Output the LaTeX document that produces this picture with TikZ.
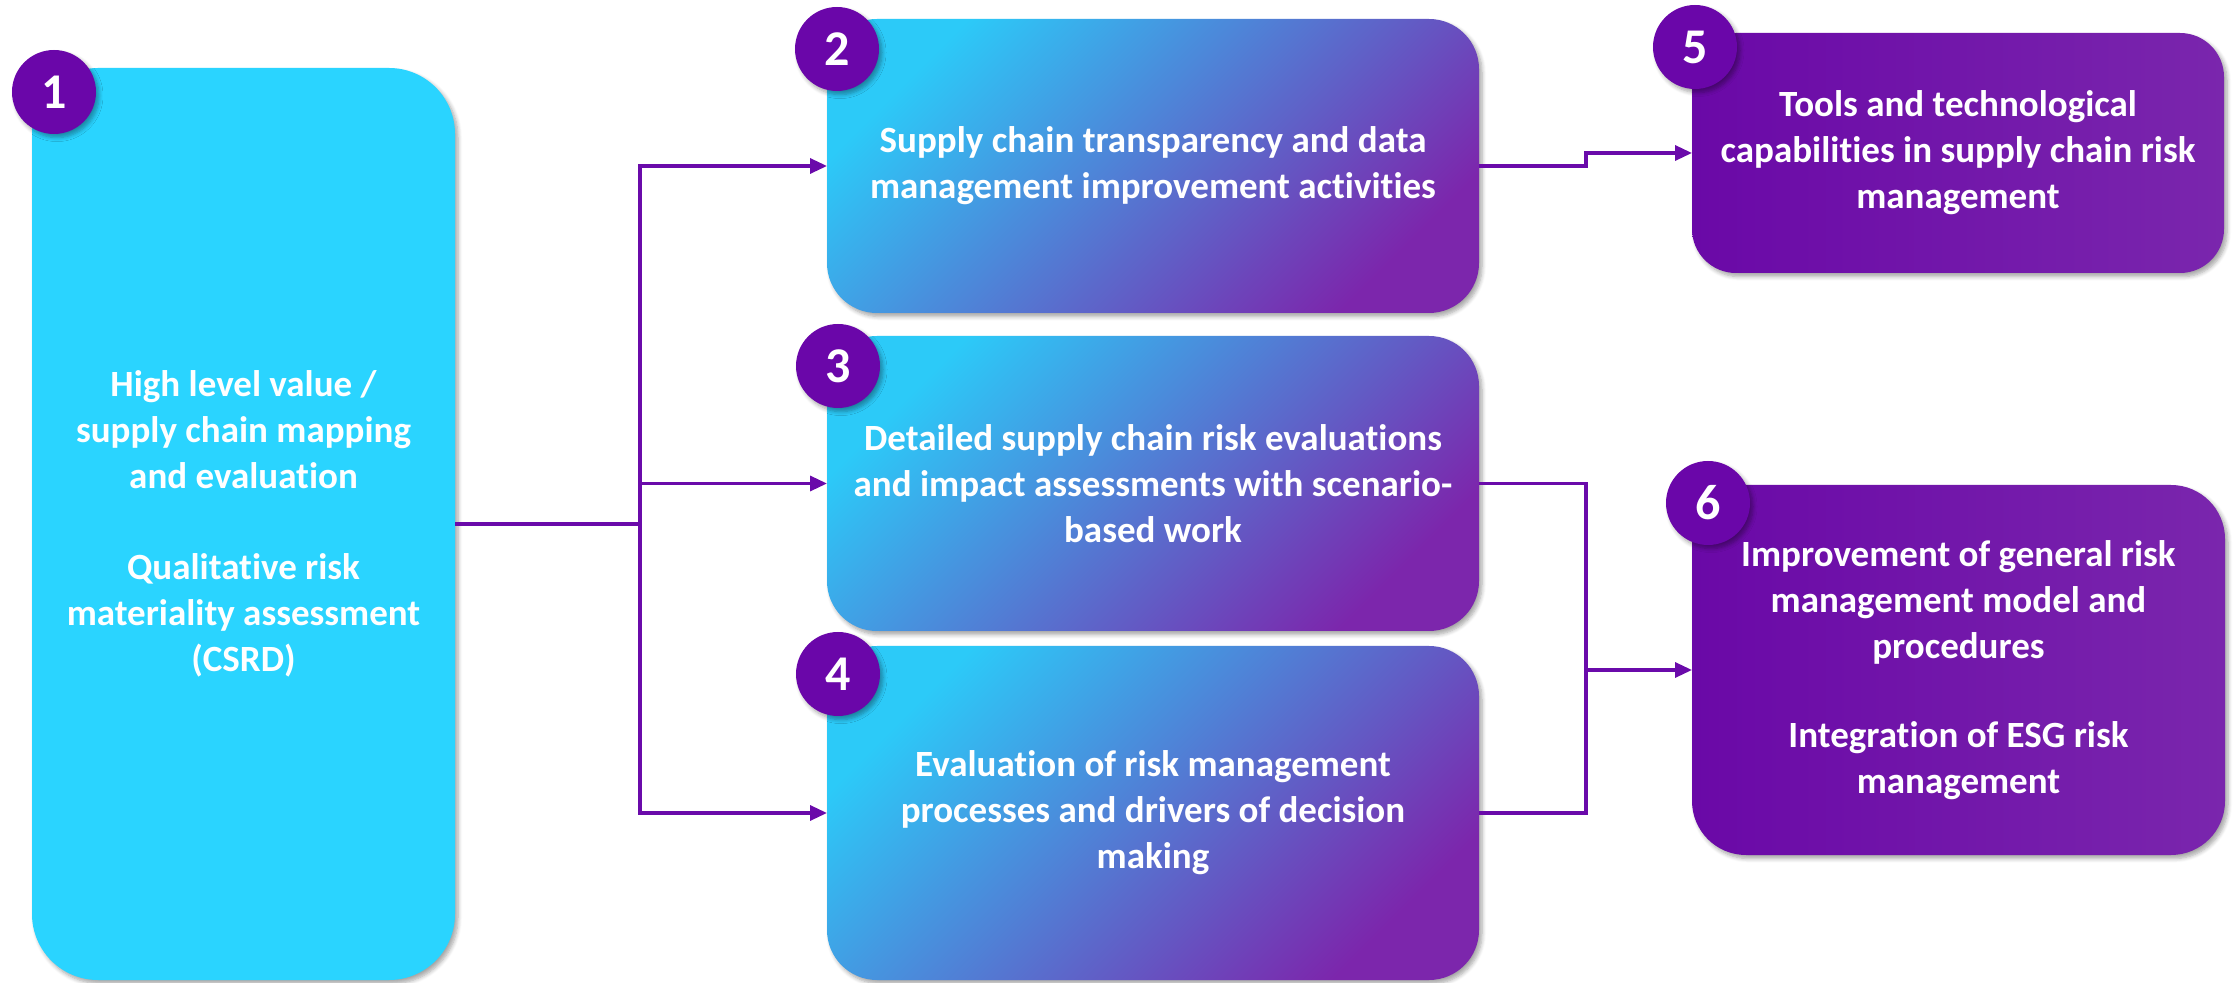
\documentclass[tikz,border=0pt]{standalone}
\usepackage{fontspec}
\setmainfont{Carlito}[Ligatures=NoCommon]
\usetikzlibrary{arrows.meta,shadows.blur}
\definecolor{cyanbox}{RGB}{42,212,255}
\definecolor{gradA}{RGB}{44,202,248}
\definecolor{gradB}{RGB}{124,38,172}
\definecolor{purA}{RGB}{106,8,167}
\definecolor{purB}{RGB}{122,38,173}
\definecolor{badge}{RGB}{106,6,169}
\definecolor{linec}{RGB}{106,10,170}
\begin{document}
\begin{tikzpicture}[x=0.5pt,y=-0.5pt,
  every node/.style={inner sep=0pt, outer sep=0pt},
  shad/.style={blur shadow={shadow blur steps=6, shadow xshift=1.5pt, shadow yshift=-1.8pt, shadow opacity=35, shadow blur radius=2pt}},
  box/.style={shad, text=white, font=\fontsize{18.5}{23}\selectfont\bfseries, align=center},
  cyanstyle/.style={box, fill=cyanbox, rounded corners=33pt},
  gradstyle/.style={box, top color=gradA, bottom color=gradB, shading angle=45, rounded corners=25pt},
  purstyle/.style={box, left color=purA, right color=purB, rounded corners=25pt},
  badgestyle/.style={shad, circle, fill=badge, minimum size=42pt, text=white, font=\fontsize{25}{25}\selectfont\bfseries},
  conn/.style={draw=linec, line width=1.65pt},
  arr/.style={conn, -{Triangle[length=8.5pt,width=7.5pt]}}
]
\useasboundingbox (0,0) rectangle (2234,983);

% boxes
\node[cyanstyle, minimum width=211.5pt, minimum height=456pt] (b1) at (243.5,524)
  {High level value /\\ supply chain mapping\\ and evaluation\\[22.5pt] Qualitative risk\\ materiality assessment\\ (CSRD)};
\node[gradstyle, minimum width=326pt, minimum height=147pt] (b2) at (1153,166)
  {Supply chain transparency and data\\ management improvement activities};
\node[gradstyle, minimum width=326pt, minimum height=147.5pt] (b3) at (1153,483.5)
  {Detailed supply chain risk evaluations\\ and impact assessments with scenario-\\ based work};
\node[gradstyle, minimum width=326pt, minimum height=167pt] (b4) at (1153,813)
  {Evaluation of risk management\\ processes and drivers of decision\\ making};
\node[purstyle, minimum width=266pt, minimum height=120pt, rounded corners=22pt] (b5) at (1958,153)
  {Tools and technological\\ capabilities in supply chain risk\\ management};
\node[purstyle, minimum width=266.5pt, minimum height=185pt, rounded corners=27pt] (b6) at (1958.5,670)
  {Improvement of general risk\\ management model and\\ procedures\\[21.5pt] Integration of ESG risk\\ management};

% badges
\node[badgestyle] (n1) at (54,92) {1};
\node[badgestyle] (n2) at (837,49) {2};
\node[badgestyle] (n3) at (838,366) {3};
\node[badgestyle] (n4) at (838,674) {4};
\node[badgestyle] (n5) at (1695,47) {5};
\node[badgestyle] (n6) at (1708,503) {6};

% connectors
\coordinate (ja) at (640,524);
\coordinate (js) at (1586,166);
\coordinate (jr) at (1586,670);
\draw[conn] (b1.east) -- (ja);
\draw[arr] (ja) |- (b2.west);
\draw[arr] (ja) |- (b3.west);
\draw[arr] (ja) |- (b4.west);
\draw[arr] (b2.east) -- (js) |- (b5.west);
\draw[conn] (b3.east) -| (jr);
\draw[conn] (b4.east) -| (jr);
\draw[arr] (jr) -- (b6.west);
\end{tikzpicture}
\end{document}
